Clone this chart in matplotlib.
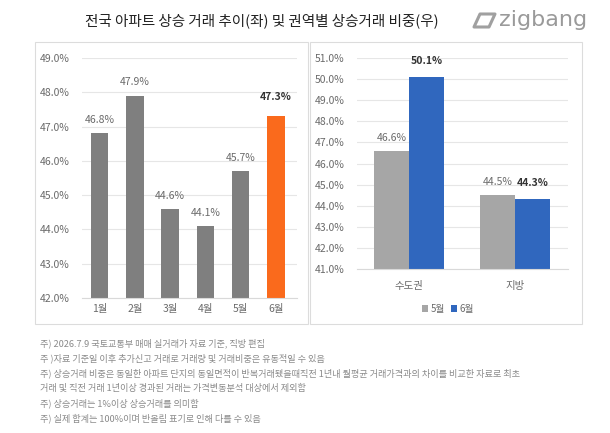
import matplotlib.pyplot as plt
from matplotlib.patches import Rectangle, Polygon

plt.rcParams['font.family'] = ['Noto Sans CJK KR', 'DejaVu Sans']

# data
months = ['1월', '2월', '3월', '4월', '5월', '6월']
rise_share = [46.8, 47.9, 44.6, 44.1, 45.7, 47.3]

regions = ['수도권', '지방']
may_share = [46.6, 44.5]
jun_share = [50.1, 44.3]

notes = [
    '주) 2026.7.9 국토교통부 매매 실거래가 자료 기준, 직방 편집',
    '주 )자료 기준일 이후 추가신고 거래로 거래량 및 거래비중은 유동적일 수 있음',
    '주) 상승거래 비중은 동일한 아파트 단지의 동일면적이 반복거래됐을때직전 1년내 월평균 거래가격과의 차이를 비교한 자료로 최초',
    '거래 및 직전 거래 1년이상 경과된 거래는 가격변동분석 대상에서 제외함',
    '주) 상승거래는 1%이상 상승거래를 의미함',
    '주) 실제 합계는 100%이며 반올림 표기로 인해 다를 수 있음',
]

W, H = 610, 433
fig = plt.figure(figsize=(W / 100, H / 100), dpi=100)
fig.patch.set_facecolor('white')

def fx(px):
    return px / W

def fy(py):
    return 1 - py / H

# panel boxes
for x0, x1 in [(35, 308), (310, 582)]:
    fig.patches.append(Rectangle((fx(x0), fy(324)), fx(x1) - fx(x0), fy(42) - fy(324),
                                 transform=fig.transFigure, fill=False,
                                 edgecolor='#dcdcdc', linewidth=0.8))

tick_col = '#6b6b6b'
grid_col = '#e6e6e6'

def style(ax):
    for s in ['top', 'right', 'left']:
        ax.spines[s].set_visible(False)
    ax.spines['bottom'].set_color('#d9d9d9')
    ax.tick_params(axis='both', length=0, colors=tick_col, labelsize=7.5)
    ax.yaxis.grid(True, color=grid_col, linewidth=0.8)
    ax.set_axisbelow(True)

# left chart
ax1 = fig.add_axes([fx(82), fy(298), fx(297) - fx(82), fy(58) - fy(298)])
colors1 = ['#7f7f7f'] * 5 + ['#fa6a1c']
x1 = range(len(months))
ax1.bar(x1, rise_share, width=0.5, color=colors1)
ax1.set_ylim(42, 49)
ax1.set_xlim(-0.5, 5.6)
ax1.set_yticks(range(42, 50))
ax1.set_yticklabels([f'{v:.1f}%' for v in range(42, 50)])
ax1.set_xticks(list(x1))
ax1.set_xticklabels(months)
ax1.tick_params(axis='y', pad=9)
ax1.tick_params(axis='x', pad=4)
style(ax1)
for i, v in enumerate(rise_share):
    last = i == len(rise_share) - 1
    ax1.annotate(f'{v:.1f}%', (i, v), xytext=(0, 6 if not last else 10),
                 textcoords='offset points', ha='center', va='bottom',
                 fontsize=7.5, color='#333333' if last else tick_col,
                 fontweight='bold' if last else 'normal')

# right chart
ax2 = fig.add_axes([fx(357), fy(269), fx(568) - fx(357), fy(58) - fy(269)])
w = 0.33
xr = range(len(regions))
ax2.bar([i - w / 2 for i in xr], may_share, width=w, color='#a6a6a6', label='5월')
ax2.bar([i + w / 2 for i in xr], jun_share, width=w, color='#3067be', label='6월')
ax2.set_ylim(41, 51)
ax2.set_xlim(-0.49, 1.5)
ax2.set_yticks(range(41, 52))
ax2.set_yticklabels([f'{v:.1f}%' for v in range(41, 52)])
ax2.set_xticks(list(xr))
ax2.set_xticklabels(regions)
ax2.tick_params(axis='y', pad=9)
ax2.tick_params(axis='x', pad=9)
style(ax2)
for i, v in enumerate(may_share):
    ax2.annotate(f'{v:.1f}%', (i - w / 2, v), xytext=(0, 6), textcoords='offset points',
                 ha='center', va='bottom', fontsize=7.5, color=tick_col)
for i, v in enumerate(jun_share):
    ax2.annotate(f'{v:.1f}%', (i + w / 2, v), xytext=(0, 8), textcoords='offset points',
                 ha='center', va='bottom', fontsize=7.5, color='#333333', fontweight='bold')
ax2.legend(loc='center', bbox_to_anchor=(fx(448), fy(309)), bbox_transform=fig.transFigure,
           ncol=2, frameon=False, fontsize=7, handlelength=0.6, handleheight=0.6,
           handletextpad=0.3, columnspacing=0.6, labelcolor=tick_col)

# title and logo
fig.text(fx(262), fy(21), '전국 아파트 상승 거래 추이(좌) 및 권역별 상승거래 비중(우)',
         ha='center', va='center', fontsize=10.5, color='#222222', fontweight='medium')
fig.text(fx(499), fy(20), 'zigbang', ha='left', va='center', fontsize=16,
         color='#9a9a9a', family='DejaVu Sans')
icon = [(474, 27), (480, 14), (495, 14), (489, 27)]
fig.patches.append(Polygon([(fx(a), fy(b)) for a, b in icon], closed=True,
                           transform=fig.transFigure, fill=False, edgecolor='#a0a0a0',
                           linewidth=2.2, joinstyle='round'))

# footnotes
for k, t in enumerate(notes):
    fig.text(fx(40), fy(343 + k * 15), t, ha='left', va='center', fontsize=6.6, color='#8a8a8a')

fig.savefig('out.png', dpi=100)
